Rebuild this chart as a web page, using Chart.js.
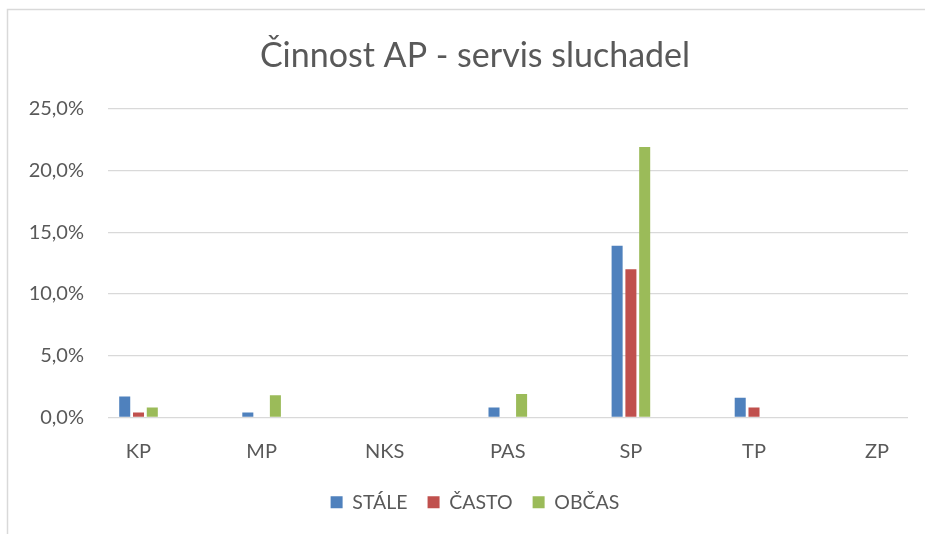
<!DOCTYPE html>
<html>
<head>
<meta charset="utf-8">
<script src="https://cdn.jsdelivr.net/npm/chart.js@4"></script>
<style>
  html, body { margin: 0; padding: 0; background: #fff; overflow: hidden; }
  #wrap { width: 950px; height: 534px; position: relative; }
</style>
</head>
<body>
<div id="wrap"><canvas id="graf"></canvas></div>
<script>
// kategorie a hodnoty (v %)
const kategorie = ['KP', 'MP', 'NKS', 'PAS', 'SP', 'TP', 'ZP'];
const stale = [1.7, 0.4, 0, 0.8, 13.9, 1.6, 0];
const casto = [0.4, 0, 0, 0, 12.0, 0.8, 0];
const obcas = [0.8, 1.8, 0, 1.9, 21.9, 0, 0];
const osaY = [0, 5, 10, 15, 20, 25];

const pismo = 'Lato, "Open Sans", sans-serif';
const sedaText = '#595959';

const body = arr => arr.map((v, i) => ({ x: i, y: v }));

// ramecek grafu
const ramecek = {
  id: 'ramecek',
  beforeDraw(chart) {
    const ctx = chart.ctx;
    ctx.save();
    ctx.strokeStyle = '#d9d9d9';
    ctx.lineWidth = 1.5;
    ctx.strokeRect(7.5, 9.5, 1000, 1000);
    ctx.restore();
  }
};

new Chart(document.getElementById('graf'), {
  type: 'bar',
  data: {
    datasets: [
      { label: 'STÁLE', data: body(stale), backgroundColor: '#4F81BD' },
      { label: 'ČASTO', data: body(casto), backgroundColor: '#C0504D' },
      { label: 'OBČAS', data: body(obcas), backgroundColor: '#9BBB59' }
    ]
  },
  options: {
    responsive: true,
    maintainAspectRatio: false,
    animation: false,
    categoryPercentage: 0.336,
    barPercentage: 0.8,
    layout: { padding: { top: 36, left: 0, right: 0, bottom: 12 } },
    plugins: {
      title: {
        display: true,
        text: 'Činnost AP - servis sluchadel',
        color: sedaText,
        font: { family: pismo, size: 34, weight: 'normal' },
        padding: { top: 0, bottom: 32 }
      },
      legend: {
        position: 'bottom',
        labels: {
          color: sedaText,
          font: { family: pismo, size: 19.5 },
          boxWidth: 12,
          boxHeight: 12,
          padding: 20
        }
      },
      tooltip: { enabled: false }
    },
    scales: {
      x: {
        type: 'linear',
        offset: false,
        min: -0.2478,
        max: 6.251,
        grid: { display: false },
        border: { display: false },
        afterBuildTicks: s => { s.ticks = kategorie.map((k, i) => ({ value: i })); },
        afterFit: s => { s.height = 55; },
        ticks: {
          color: sedaText,
          font: { family: pismo, size: 20 },
          padding: 14,
          maxRotation: 0,
          autoSkip: false,
          callback: v => kategorie[v]
        }
      },
      y: {
        min: 0,
        max: 25,
        afterBuildTicks: s => { s.ticks = osaY.map(v => ({ value: v })); },
        afterFit: s => { s.width = 108; },
        grid: { color: '#d9d9d9', lineWidth: 1.3, drawTicks: false },
        border: { display: false },
        ticks: {
          color: sedaText,
          font: { family: pismo, size: 20 },
          padding: 24,
          callback: v => v.toFixed(1).replace('.', ',') + '%'
        }
      },
      // prazdna osa vpravo - jen odsazeni plochy grafu
      vpravo: {
        type: 'linear',
        position: 'right',
        grid: { display: false },
        border: { display: false },
        ticks: { display: false },
        afterFit: s => { s.width = 42; }
      }
    }
  },
  plugins: [ramecek]
});
</script>
</body>
</html>
